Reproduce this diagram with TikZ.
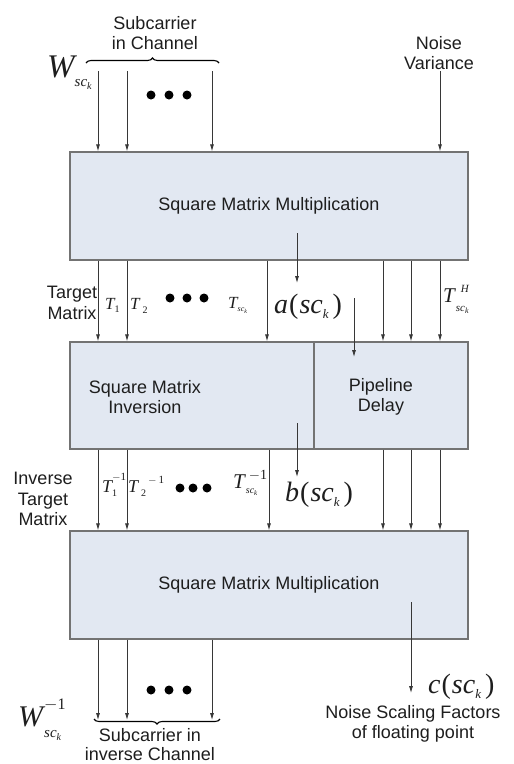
\documentclass[tikz,border=0pt]{standalone}
\usepackage{fontspec}
\setmainfont{Liberation Sans}
\newfontfamily\tnr{Liberation Serif}
\usetikzlibrary{arrows.meta,decorations.pathreplacing}
\newcommand{\mi}[1]{{\tnr\itshape #1}}
\newcommand{\mr}[1]{{\tnr #1}}
\newcommand{\fsz}[1]{\fontsize{#1}{#1}\selectfont}
% base, superscript (raise), subscript (lower)
\newcommand{\supsub}[4]{\rlap{\raisebox{#1}{#2}}\raisebox{-#3}{#4}}
\definecolor{boxfill}{RGB}{226,232,242}
\definecolor{boxline}{RGB}{115,115,115}
\definecolor{arrc}{RGB}{55,55,55}
\definecolor{txt}{RGB}{30,30,30}
\begin{document}
\begin{tikzpicture}[x=1pt,y=-1pt,
  box/.style={draw=boxline,fill=boxfill,line width=1.3pt,inner sep=0pt,minimum height=108pt,text=txt,font=\fsz{18}},
  lbl/.style={inner sep=0pt,align=center,text=txt,font=\fontsize{18}{20.5}\selectfont},
  mth/.style={inner sep=0pt,anchor=base west,text=txt},
  arr/.style={draw=arrc,line width=0.8pt,-{Latex[length=7pt,width=4pt]}},
  brc/.style={draw=black,line width=1.1pt,decorate,decoration={brace,amplitude=5pt}},
  dot/.style={circle,fill=black,inner sep=0pt,minimum size=9pt}]
\useasboundingbox (0,0) rectangle (514,764);
\fill[white] (0,0) rectangle (514,764);

% boxes
\node[box,minimum width=398pt] (mult1) at (269,206) {Square Matrix Multiplication};
\node[box,minimum width=244pt,minimum height=107pt] (inv) at (192,395.5) {};
\node[box,minimum width=154pt,minimum height=107pt] (delay) at (391,395.5) {};
\node[box,minimum width=398pt] (mult2) at (269,585) {Square Matrix Multiplication};
\node[lbl] (invtxt) at (145,397) {Square Matrix\\Inversion};
\node[lbl] (delaytxt) at (381,397) {Pipeline\\Delay};

% top labels
\node[lbl] (subin) at (155,33) {Subcarrier\\in Channel};
\node[lbl] (noisev) at (439,53) {Noise\\Variance};
\draw[brc] (86,63) -- (219,63) coordinate[pos=0.5] (brtop);
\node[mth] (wtop) at (47,77) {\fsz{33}\mi{W}\raisebox{-9pt}{\fsz{15}\mi{sc}\raisebox{-3pt}{\fsz{10}\mi{k}}}};
\node[dot] (d1) at (151,95) {};
\node[dot] (d2) at (169,95) {};
\node[dot] (d3) at (187,95) {};

% column coordinates
\coordinate (x1) at (98,71);
\coordinate (x2) at (127,71);
\coordinate (x3) at (212,71);
\coordinate (xn) at (440,71);
\coordinate (y4) at (267,0);
\coordinate (y5) at (383,0);
\coordinate (y6) at (411,0);
\coordinate (y7) at (440,0);
\coordinate (z4) at (269,0);

% input arrows
\foreach \c in {x1,x2,x3,xn}
  \draw[arr] (\c) -- (\c |- mult1.north);

% level 1 -> 2
\foreach \c in {x1,x2,y4}
  \draw[arr] (\c |- mult1.south) -- (\c |- inv.north);
\foreach \c in {y5,y6,y7}
  \draw[arr] (\c |- mult1.south) -- (\c |- delay.north);
\coordinate (aS) at (297,233);
\coordinate (aE) at (297,283);
\draw[arr] (aS) -- (aE);
\coordinate (pS) at (354,298);
\coordinate (pE) at (354,357);
\draw[arr] (pS) -- (pE);

% labels level 1 -> 2
\node[lbl] (tgt) at (72,303) {Target\\Matrix};
\node[mth] (t1) at (105,309) {\fsz{17}\mi{T}\raisebox{-3pt}{\fsz{10}\mr{1}}};
\node[mth] (t2) at (130,309) {\fsz{17}\mi{T}\hspace{3pt}\raisebox{-4pt}{\fsz{10}\mr{2}}};
\node[dot] (e1) at (170,298) {};
\node[dot] (e2) at (187,298) {};
\node[dot] (e3) at (204,298) {};
\node[mth] (tk) at (228,308) {\fsz{17}\mi{T}\raisebox{-3pt}{\fsz{8}\mi{sc}\raisebox{-2pt}{\fsz{6}\mi{k}}}};
\node[mth] (alab) at (274,313) {\fsz{28}\mi{a}\kern1pt\mr{(}\kern1pt\mi{sc}\raisebox{-5pt}{\fsz{13}\mi{k}}\kern4pt\mr{)}};
\node[mth] (th) at (443,302) {\fsz{21}\mi{T}\kern1pt\supsub{10pt}{\fsz{11}\hspace{5pt}\mi{H}}{9pt}{\fsz{11}\mi{sc}\raisebox{-2pt}{\fsz{8}\mi{k}}}};

% level 2 -> 3
\foreach \c in {x1,x2,z4}
  \draw[arr] (\c |- inv.south) -- (\c |- mult2.north);
\foreach \c in {y5,y6,y7}
  \draw[arr] (\c |- delay.south) -- (\c |- mult2.north);
\coordinate (bS) at (297,423);
\coordinate (bE) at (297,477);
\draw[arr] (bS) -- (bE);

\node[lbl] (itgt) at (43,499) {Inverse\\Target\\Matrix};
\node[mth] (ti1) at (102,492) {\fsz{18}\mi{T}\supsub{12pt}{\fsz{11}\mr{$-$1}}{4pt}{\fsz{10}\mr{1}}};
\node[mth] (ti2) at (128,492) {\fsz{18}\mi{T}\hspace{3pt}\raisebox{-4pt}{\fsz{10}\mr{2}}\hspace{2pt}\raisebox{9pt}{\fsz{11}\mr{$-$\,1}}};
\node[dot] (f1) at (180,488) {};
\node[dot] (f2) at (193,488) {};
\node[dot] (f3) at (207,488) {};
\node[mth] (tki) at (233,488) {\fsz{21}\mi{T}\kern1pt\supsub{9pt}{\fsz{14}\hspace{3pt}\mr{$-$1}}{5pt}{\fsz{10}\mi{sc}\raisebox{-2pt}{\fsz{7}\mi{k}}}};
\node[mth] (blab) at (285,501) {\fsz{28}\mi{b}\kern1pt\mr{(}\kern1pt\mi{sc}\raisebox{-5pt}{\fsz{13}\mi{k}}\kern4pt\mr{)}};

% outputs
\coordinate (o1) at (98,720);
\coordinate (o2) at (127,720);
\coordinate (o3) at (212,720);
\foreach \c in {o1,o2,o3}
  \draw[arr] (\c |- mult2.south) -- (\c);
\coordinate (cS) at (411,602);
\coordinate (cE) at (411,693);
\draw[arr] (cS) -- (cE);

\node[dot] (g1) at (151,690) {};
\node[dot] (g2) at (169,690) {};
\node[dot] (g3) at (187,690) {};
\draw[brc] (220,719) -- (94,719) coordinate[pos=0.5] (brbot);
\node[mth] (wbot) at (18,726) {\fsz{30}\mi{W}\kern1pt\supsub{17pt}{\fsz{16}\mr{$-$1}}{11pt}{\fsz{15}\mi{sc}\raisebox{-3pt}{\fsz{10}\mi{k}}}};
\node[lbl,font=\fontsize{18}{19.5}\selectfont] (subout) at (150,744.5) {Subcarrier in\\inverse Channel};
\node[mth] (clab) at (428,693) {\fsz{28}\mi{c}\kern1pt\mr{(}\kern1pt\mi{sc}\raisebox{-5pt}{\fsz{13}\mi{k}}\kern4pt\mr{)}};
\node[lbl] (nsf) at (413,724) {Noise Scaling Factors\\of floating point};
\end{tikzpicture}
\end{document}
